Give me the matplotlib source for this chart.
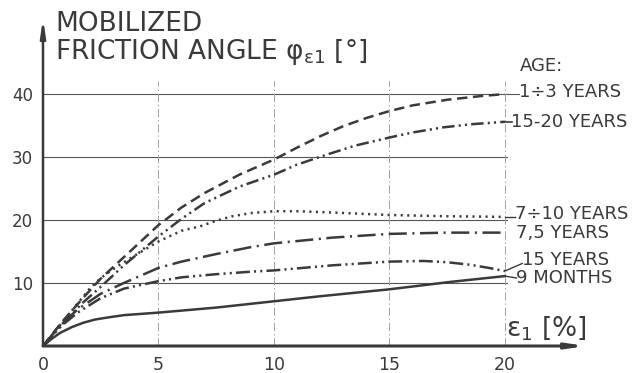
import matplotlib
matplotlib.use("Agg")
import matplotlib.pyplot as plt

plt.rcParams['font.family'] = ['DejaVu Sans']
plt.rcParams['lines.scale_dashes'] = False
plt.rcParams['mathtext.fontset'] = 'dejavusans'

INK = '#3a3a3a'

# ---- data ----
x_13 = [0, 0.75, 1.75, 2.5, 3.5, 5, 6, 7, 8.5, 10, 11, 12, 13, 14, 15, 16, 17.5, 19, 20]
y_13 = [0, 3.5, 7.7, 10.7, 14.1, 19.2, 22.0, 24.3, 27.2, 29.6, 31.5, 33.3, 34.9, 36.2, 37.3, 38.2, 39.1, 39.7, 40]

x_1520 = [0, 0.7, 1.7, 2.5, 3.5, 5, 6, 7, 8.5, 10, 11, 12.3, 13.5, 15, 16, 17.3, 18.5, 20]
y_1520 = [0, 3.0, 6.8, 9.4, 12.8, 17.4, 20.2, 22.7, 25.3, 27.2, 28.8, 30.4, 31.8, 33.1, 33.9, 34.7, 35.2, 35.6]

x_710 = [0, 1, 2, 2.5, 3.2, 3.9, 5, 6, 6.8, 7.5, 8.2, 9, 10, 11, 12.5, 15, 17.5, 20]
y_710 = [0, 4.5, 9.0, 10.8, 12.6, 14.2, 16.6, 18.3, 19.0, 19.9, 20.6, 21.1, 21.4, 21.4, 21.2, 20.8, 20.6, 20.5]

x_75 = [0, 0.8, 1.5, 2.5, 3.5, 5, 6, 7.5, 9, 10, 12.5, 15, 17.5, 20]
y_75 = [0, 3.5, 5.8, 8.3, 10.0, 12.4, 13.4, 14.6, 15.7, 16.3, 17.2, 17.8, 18.0, 18.0]

x_15 = [0, 0.8, 1.5, 2.5, 3.5, 5, 6, 7.5, 9, 10, 12.5, 15, 16.5, 17.5, 18.5, 19.3, 20]
y_15 = [0, 3.2, 5.3, 7.6, 9.1, 10.3, 10.9, 11.4, 11.8, 12.0, 12.8, 13.4, 13.5, 13.3, 12.9, 12.4, 11.9]

x_9m = [0, 0.4, 0.75, 1.25, 1.75, 2.25, 2.75, 3.5, 5, 7.5, 10, 12, 15, 17.7, 20]
y_9m = [0, 1.2, 2.1, 3.0, 3.7, 4.2, 4.5, 4.9, 5.3, 6.1, 7.1, 7.9, 9.0, 10.2, 11.1]

x_ticks = [0, 5, 10, 15, 20]
y_ticks = [10, 20, 30, 40]
labels = ["1÷3 YEARS", "15-20 YEARS", "7÷10 YEARS", "7,5 YEARS", "15 YEARS", "9 MONTHS"]

fig = plt.figure(figsize=(6.4, 3.73), dpi=100)
ax = fig.add_axes([0.0672, 0.0724, 0.8516, 0.878])
ax.set_xlim(0, 23.6)
ax.set_ylim(0, 52)
for s in ax.spines.values():
    s.set_visible(False)

# grid
for yv in y_ticks:
    ax.plot([0, 20.6 if yv == 40 else 20.1], [yv, yv], color='#555555', lw=0.8, zorder=1)
for xv in x_ticks[1:]:
    ax.plot([xv, xv], [0, 42], color='#a0a0a0', lw=0.7, ls=(0, (6, 2, 1, 2)), zorder=1)

lw = 1.8
kw = dict(color=INK, lw=lw, zorder=3, solid_joinstyle='round', dash_joinstyle='round')
ax.plot(x_13, y_13, dashes=(7.5, 4), **kw)
ax.plot(x_1520, y_1520, dashes=(9, 3, 1.5, 3, 1.5, 3), **kw)
ax.plot(x_710, y_710, dashes=(1.5, 3.2), **kw)
ax.plot(x_75, y_75, dashes=(13, 4, 1.5, 4), **kw)
ax.plot(x_15, y_15, dashes=(10, 3, 1.5, 3, 1.5, 3), **kw)
ax.plot(x_9m, y_9m, **kw)

# leaders
ax.plot([x_1520[-1], 20.3], [y_1520[-1], 35.6], color=INK, lw=1.2)
ax.plot([x_710[-1], 20.45], [y_710[-1], 20.5], color=INK, lw=1.0)
ax.plot([x_15[-1], 20.75], [y_15[-1], 13.1], color=INK, lw=1.0)
ax.plot([x_9m[-1], 20.5], [y_9m[-1], 10.8], color=INK, lw=1.0)

# axes with arrows
ax.annotate('', xy=(23.5, 0), xytext=(0, 0), annotation_clip=False,
            arrowprops=dict(arrowstyle='-|>,head_length=1.0,head_width=0.15', color=INK, lw=2.2,
                            shrinkA=0, shrinkB=0))
ax.annotate('', xy=(0, 52), xytext=(0, 0), annotation_clip=False,
            arrowprops=dict(arrowstyle='-|>,head_length=1.0,head_width=0.15', color=INK, lw=1.8,
                            shrinkA=0, shrinkB=0))

ax.set_xticks(x_ticks)
ax.set_yticks(y_ticks)
ax.tick_params(length=0, colors=INK, labelsize=12)
ax.tick_params(axis='x', pad=7, labelsize=12.5)
ax.tick_params(axis='y', pad=7)
ax.set_xticklabels([str(v) for v in x_ticks])
ax.set_yticklabels([str(v) for v in y_ticks])

# titles
fig.text(55/640, 1 - 24/373, "MOBILIZED", fontsize=19, color=INK, va='center', ha='left')
fig.text(55/640, 1 - 52/373, r"FRICTION ANGLE φ$_{\mathrm{ε1}}$ [°]", fontsize=19,
         color=INK, va='center', ha='left')
ax.text(21.8, 2.9, r"$\mathrm{ε}_1$ [%]", fontsize=19, color=INK, ha='center', va='center')

# series labels
ax.text(20.65, 44.4, "AGE:", fontsize=13, color=INK, va='center', ha='left')
lab_pos = [(20.6, 40.3), (20.25, 35.6), (20.45, 21.0), (20.5, 17.9), (20.75, 13.6), (20.5, 10.8)]
for t, (lx, ly) in zip(labels, lab_pos):
    ax.text(lx, ly, t, fontsize=13, color=INK, va='center', ha='left')

fig.savefig("out.png", dpi=100, facecolor='white')
